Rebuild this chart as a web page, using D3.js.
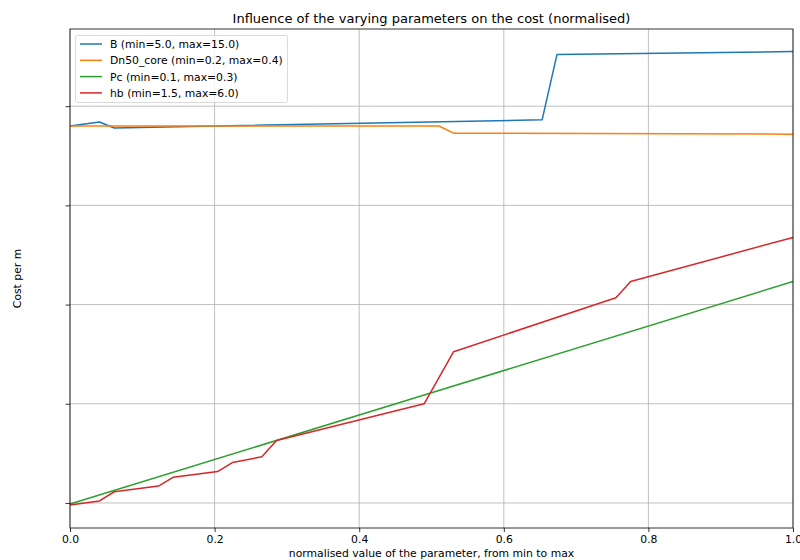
<!DOCTYPE html>
<html><head><meta charset="utf-8">
<script src="https://cdn.jsdelivr.net/npm/d3@7"></script>
<style>body{margin:0;background:#fff}svg{font-family:"DejaVu Sans",sans-serif}</style>
</head><body><svg id="c" width="800" height="560"></svg>
<script>
const title = "Influence of the varying parameters on the cost (normalised)";
const xLabel = "normalised value of the parameter, from min to max";
const yLabel = "Cost per m";
const xTicks = [0, 0.2, 0.4, 0.6, 0.8, 1.0];
const yTicks = [0, 1, 2, 3, 4];
const seriesNames = ["B (min=5.0, max=15.0)", "Dn50_core (min=0.2, max=0.4)", "Pc (min=0.1, max=0.3)", "hb (min=1.5, max=6.0)"];
const colors = ["#1f77b4", "#ff7f0e", "#2ca02c", "#d62728"];
const B = [[0,3.800],[0.0408,3.840],[0.0612,3.780],[0.653,3.862],[0.6735,4.520],[1.0,4.550]];
const Dn50 = [[0,3.800],[0.5102,3.800],[0.5306,3.728],[1.0,3.718]];
const Pc = [[0,-0.010],[0.5,1.111],[1.0,2.232]];
const hb = [[0,-0.020],[0.0408,0.020],[0.0612,0.113],[0.1224,0.170],[0.1429,0.260],[0.2041,0.316],[0.2245,0.407],[0.2653,0.465],[0.2857,0.629],[0.4898,1.000],[0.5306,1.525],[0.7551,2.068],[0.7755,2.232],[1.0,2.677]];
const series = [B, Dn50, Pc, hb];

const svg = d3.select("#c");
const L = 70, R = 793, T = 29, Bt = 528;
const x = d3.scaleLinear().domain([0, 1]).range([L, R]);
const y = d3.scaleLinear().domain([-0.2525, 4.778]).range([Bt, T]);

// grid
const g = svg.append("g");
g.selectAll(".vg").data(xTicks).join("line")
  .attr("x1", d => x(d)).attr("x2", d => x(d)).attr("y1", T).attr("y2", Bt)
  .attr("stroke", "#b0b0b0").attr("stroke-width", 0.8);
g.selectAll(".hg").data(yTicks).join("line")
  .attr("y1", d => y(d)).attr("y2", d => y(d)).attr("x1", L).attr("x2", R)
  .attr("stroke", "#b0b0b0").attr("stroke-width", 0.8);

// lines
const line = d3.line().x(d => x(d[0])).y(d => y(d[1]));
series.forEach((s, i) => {
  svg.append("path").datum(s).attr("d", line).attr("fill", "none")
    .attr("stroke", colors[i]).attr("stroke-width", 1.5).attr("stroke-linejoin", "round");
});

// axes
const xa = svg.append("g").attr("transform", `translate(0,${Bt})`)
  .call(d3.axisBottom(x).tickValues(xTicks).tickFormat(d3.format(".1f")).tickSize(4).tickPadding(3.5));
const ya = svg.append("g").attr("transform", `translate(${L},0)`)
  .call(d3.axisLeft(y).tickValues(yTicks).tickFormat("").tickSize(4.5));
[xa, ya].forEach(a => {
  a.select(".domain").remove();
  a.selectAll("line").attr("stroke", "#000").attr("stroke-width", 0.8);
  a.selectAll("text").attr("font-size", 10.8).attr("fill", "#000").attr("font-family", "DejaVu Sans");
});
svg.append("rect").attr("x", L).attr("y", T).attr("width", R - L).attr("height", Bt - T)
  .attr("fill", "none").attr("stroke", "#000").attr("stroke-width", 0.8);

// texts
svg.append("text").attr("x", (L + R) / 2).attr("y", 23).attr("text-anchor", "middle")
  .attr("font-size", 13).text(title);
svg.append("text").attr("x", (L + R) / 2).attr("y", 556.5).attr("text-anchor", "middle")
  .attr("font-size", 10.8).text(xLabel);
svg.append("text").attr("transform", `translate(21,${(T + Bt) / 2}) rotate(-90)`)
  .attr("text-anchor", "middle").attr("font-size", 10.8).text(yLabel);

// legend
const lg = svg.append("g");
lg.append("rect").attr("x", 75.5).attr("y", 35.5).attr("width", 212).attr("height", 67).attr("rx", 2)
  .attr("fill", "#fff").attr("fill-opacity", 0.8).attr("stroke", "#d0d0d0").attr("stroke-width", 0.8);
seriesNames.forEach((n, i) => {
  const yy = 44 + i * 16.3;
  lg.append("line").attr("x1", 80).attr("x2", 102).attr("y1", yy).attr("y2", yy)
    .attr("stroke", colors[i]).attr("stroke-width", 1.5);
  lg.append("text").attr("x", 110).attr("y", yy + 3.9).attr("font-size", 10.8).text(n);
});
</script></body></html>
